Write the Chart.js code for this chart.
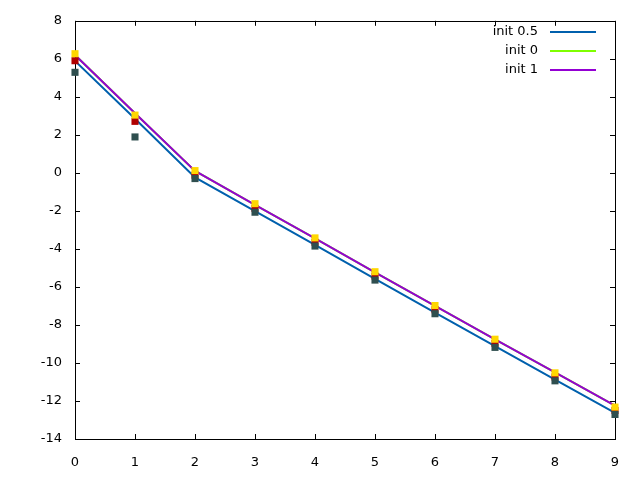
<!DOCTYPE html>
<html>
<head>
<meta charset="utf-8">
<script src="https://cdn.jsdelivr.net/npm/chart.js@4/dist/chart.umd.min.js"></script>
<style>
  html, body { margin: 0; padding: 0; background: #fff; }
  #wrap { width: 640px; height: 480px; position: relative; }
</style>
</head>
<body>
<div id="wrap"><canvas id="c" width="640" height="480"></canvas></div>
<script>
const xValues = [0, 1, 2, 3, 4, 5, 6, 7, 8, 9];
const lineInit05 = [5.89, 2.85, -0.24, -2.01, -3.79, -5.58, -7.35, -9.12, -10.88, -12.62];
const lineInit0  = [6.20, 3.14, 0.10, -1.68, -3.45, -5.24, -7.00, -8.76, -10.50, -12.25];
const lineInit1  = [6.20, 3.14, 0.10, -1.68, -3.45, -5.24, -7.00, -8.76, -10.50, -12.25];
const ptsDark    = [5.29, 1.89, -0.30, -2.07, -3.85, -5.64, -7.41, -9.18, -10.94, -12.71];
const ptsRed     = [5.90, 2.71, -0.12, -1.87, -3.65, -5.43, -7.20, -8.97, -10.74, -12.50];
const ptsGold    = [6.27, 3.04, 0.12, -1.62, -3.42, -5.20, -6.98, -8.75, -10.52, -12.32];
const yTicks = [8, 6, 4, 2, 0, -2, -4, -6, -8, -10, -12, -14];
const legendLabels = ['init 0.5', 'init 0', 'init 1'];

const FONT = 'DejaVu Sans';
const toXY = arr => xValues.map((x, i) => ({ x: x, y: arr[i] }));

function lineDs(label, data, color, order) {
  return { label, data: toXY(data), showLine: true, borderColor: color, backgroundColor: color,
           borderWidth: 2, pointRadius: 0, pointHoverRadius: 0, tension: 0, order, isLegend: true };
}
function ptDs(label, data, color, order) {
  return { label, data: toXY(data), showLine: false, pointStyle: 'rect', pointRadius: 5,
           pointBorderWidth: 0, borderColor: color, backgroundColor: color, order, isLegend: false,
           clip: false };
}

const frame = {
  id: 'frame',
  beforeDatasetsDraw(chart) {
    const ctx = chart.ctx, a = chart.chartArea;
    const xs = chart.scales.x, ys = chart.scales.y;
    ctx.save();
    ctx.strokeStyle = '#000';
    ctx.lineWidth = 1;
    ctx.strokeRect(Math.round(a.left) + 0.5, Math.round(a.top) + 0.5,
                   Math.round(a.right - a.left), Math.round(a.bottom - a.top));
    const tl = 5;
    ctx.beginPath();
    xs.ticks.forEach(t => {
      const px = Math.round(xs.getPixelForValue(t.value)) + 0.5;
      ctx.moveTo(px, a.bottom); ctx.lineTo(px, a.bottom - tl);
      ctx.moveTo(px, a.top); ctx.lineTo(px, a.top + tl);
    });
    ys.ticks.forEach(t => {
      const py = Math.round(ys.getPixelForValue(t.value)) + 0.5;
      ctx.moveTo(a.left, py); ctx.lineTo(a.left + tl, py);
      ctx.moveTo(a.right, py); ctx.lineTo(a.right - tl, py);
    });
    ctx.stroke();
    ctx.restore();
  },
  afterDraw(chart) {
    const ctx = chart.ctx;
    const items = chart.data.datasets.filter(d => d.isLegend);
    ctx.save();
    ctx.font = '13px "' + FONT + '"';
    ctx.textAlign = 'right';
    ctx.textBaseline = 'middle';
    items.forEach((d, i) => {
      const y = 32 + i * 19;
      ctx.fillStyle = '#000';
      ctx.fillText(d.label, 538, y);
      ctx.strokeStyle = d.borderColor;
      ctx.lineWidth = 2;
      ctx.beginPath();
      ctx.moveTo(550, y); ctx.lineTo(596, y);
      ctx.stroke();
    });
    ctx.restore();
  }
};

new Chart(document.getElementById('c'), {
  type: 'scatter',
  data: {
    datasets: [
      ptDs('pts gold', ptsGold, '#ffd700', 0),
      ptDs('pts dark', ptsDark, '#2f4f4f', 1),
      ptDs('pts red', ptsRed, '#b00000', 2),
      lineDs(legendLabels[0], lineInit05, '#0060ad', 5),
      lineDs(legendLabels[1], lineInit0, '#7fff00', 4),
      lineDs(legendLabels[2], lineInit1, '#9400d3', 3)
    ]
  },
  options: {
    responsive: false,
    animation: false,
    events: [],
    layout: { padding: { top: 19, right: 25, left: 0, bottom: 0 } },
    plugins: { legend: { display: false }, tooltip: { enabled: false } },
    scales: {
      x: {
        type: 'linear', min: 0, max: 9,
        afterFit: s => { s.height = 41; },
        afterBuildTicks: s => { s.ticks = xValues.map(v => ({ value: v })); },
        grid: { display: false, drawTicks: false },
        border: { display: false },
        ticks: { color: '#000', font: { family: FONT, size: 13 }, padding: 16, maxRotation: 0 }
      },
      y: {
        type: 'linear', min: -14, max: 8,
        afterFit: s => { s.width = 75; },
        afterBuildTicks: s => { s.ticks = yTicks.map(v => ({ value: v })); },
        grid: { display: false, drawTicks: false },
        border: { display: false },
        ticks: { color: '#000', font: { family: FONT, size: 13 }, padding: 13 }
      }
    }
  },
  plugins: [frame]
});
</script>
</body>
</html>
